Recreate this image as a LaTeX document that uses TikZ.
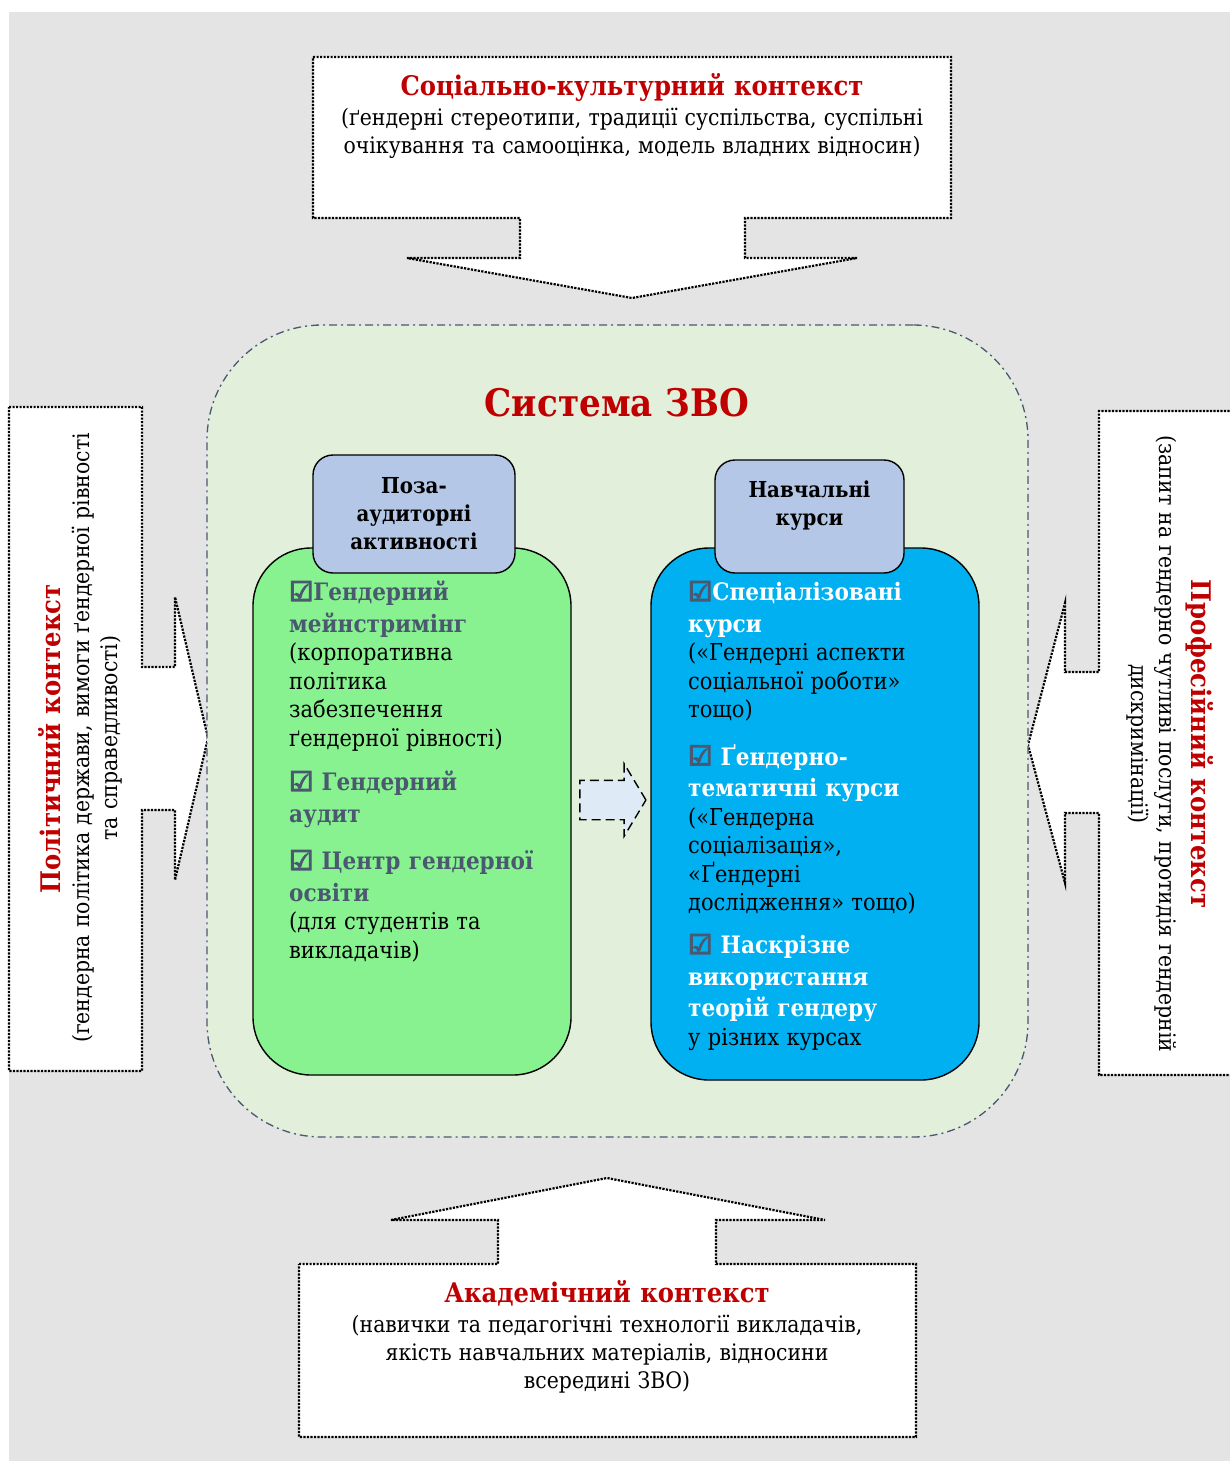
\documentclass[tikz,border=0pt]{standalone}
\usepackage{fontspec}
\setmainfont{DejaVu Serif Condensed}[WordSpace=1.1]
\newfontfamily\boxsym{DejaVu Sans}[FakeBold=5]
\usetikzlibrary{shapes.arrows}
\definecolor{ctxred}{HTML}{C00000}
\definecolor{slate}{HTML}{4A5870}
\definecolor{bgray}{HTML}{E4E4E4}
\definecolor{zvogreen}{HTML}{E2EFDA}
\definecolor{actgreen}{HTML}{88F290}
\definecolor{cyanblue}{HTML}{00B0F0}
\definecolor{headblue}{HTML}{B4C7E7}
\definecolor{paleblue}{HTML}{DEEBF7}
\newcommand{\chk}{{\boxsym\mdseries\fontsize{27}{31.5}\selectfont\color{slate}☑}}
\newcommand{\hd}[1]{{\fontsize{24}{31.5}\selectfont\bfseries\spaceskip=0pt\xspaceskip=0pt #1\par}}
\newcommand{\dsc}[1]{{\fontsize{23.3}{28.5}\selectfont\spaceskip=0pt\xspaceskip=0pt\color{black}#1\par}}
\begin{document}
\begin{tikzpicture}[x=1pt, y=-1pt,
    callout/.style={draw=black, dash pattern=on 2.2pt off 1.3pt, line width=2.2pt, fill=white},
    ctxtitle/.style={text=ctxred, font=\fontsize{27}{32}\selectfont\bfseries},
    ctxtext/.style={align=center, font=\fontsize{22.7}{28}\selectfont},
    bigbox/.style={draw=black, line width=1.4pt, rounded corners=58pt},
    headbox/.style={draw=black, line width=1.4pt, rounded corners=20pt, fill=headblue},
    headtext/.style={align=center, font=\fontsize{22}{28}\selectfont\bfseries},
    item/.style={anchor=north west, inner sep=0pt, text width=300pt, align=left,
        font=\fontsize{23.3}{28.5}\selectfont}]
\useasboundingbox (0,0) rectangle (1230,1461);
\fill[bgray] (9,12) rectangle (1230,1461);

% context callouts
\draw[callout] (313,57) -- (951,57) -- (951,218) -- (745,218) -- (745,258) -- (857,258) -- (632,298)
    -- (407,258) -- (520,258) -- (520,218) -- (313,218) -- cycle;
\draw[callout] (9,407) -- (142,407) -- (142,667) -- (175,667) -- (175,597) -- (208,738) -- (175,880)
    -- (175,810) -- (142,810) -- (142,1071) -- (9,1071) -- cycle;
\draw[callout] (1240,411) -- (1099,411) -- (1099,672) -- (1065,672) -- (1065,603) -- (1028,745)
    -- (1065,883) -- (1065,813) -- (1099,813) -- (1099,1075) -- (1240,1075) -- cycle;
\draw[callout] (299,1264) -- (498,1264) -- (498,1220) -- (391,1220) -- (607,1178) -- (825,1220)
    -- (716,1220) -- (716,1264) -- (916,1264) -- (916,1437) -- (299,1437) -- cycle;

\node (social) [ctxtitle] at (632,87) {Соціально-культурний контекст};
\node (socialtext) [ctxtext] at (632,133) {(ґендерні стереотипи, традиції суспільства, суспільні\\
    очікування та самооцінка, модель владних відносин)};
\node (polit) [ctxtitle, rotate=90] at (50,739) {Політичний контекст};
\node (polittext) [ctxtext, rotate=90] at (97,738) {(гендерна політика держави, вимоги ґендерної рівності\\
    та справедливості)};
\node (prof) [ctxtitle, rotate=-90] at (1200,744) {Професійний контекст};
\node (proftext) [ctxtext, rotate=-90] at (1152,744) {(запит на гендерно чутливі послуги, протидія гендерній\\
    дискримінації)};
\node (acad) [ctxtitle] at (607,1293) {Академічний контекст};
\node (acadtext) [ctxtext] at (607,1354) {(навички та педагогічні технології викладачів,\\
    якість навчальних матеріалів, відносини\\всередині ЗВО)};

% system
\node (zvo) [draw=slate, line width=1.3pt, dash pattern=on 8pt off 4pt on 2pt off 4pt, fill=zvogreen,
    rounded corners=115pt, minimum width=821pt, minimum height=812pt] at (617.5,731) {};
\node (zvotitle) [text=ctxred, font=\fontsize{38}{44}\selectfont\bfseries] at (617,403) {Система ЗВО};

\node (extrabox) [bigbox, fill=actgreen, minimum width=318pt, minimum height=527pt] at (412,811.5) {};
\node (extrahead) [headbox, minimum width=202pt, minimum height=118pt] at (414,514) {};
\node (extratitle) [headtext] at (extrahead) {Поза-\\аудиторні\\активності};
\node (coursebox) [bigbox, fill=cyanblue, minimum width=328pt, minimum height=532pt] at (815,814) {};
\node (coursehead) [headbox, minimum width=189pt, minimum height=113pt] at (809.5,516.5) {};
\node (coursetitle) [headtext] at ([yshift=11pt]coursehead.center) {Навчальні\\курси};

\node (flow) [single arrow, draw=black, dash pattern=on 9pt off 5pt, line width=1.4pt, fill=paleblue,
    inner xsep=0pt, inner ysep=19pt, minimum height=66pt, single arrow head extend=16.5pt,
    single arrow tip angle=118] at (607,800) {};

% items
\node (mainstr) [item, text=slate] at (289,581) {\hd{\chk Гендерний\\мейнстримінг}%
    \dsc{(корпоративна\\політика\\забезпечення\\ґендерної рівності)}};
\node (audit) [item, text=slate] at (289,771) {\hd{\chk\ Гендерний\\аудит}};
\node (centre) [item, text=slate] at (289,850) {\hd{\chk\ Центр гендерної\\освіти}%
    \dsc{(для студентів та\\викладачів)}};
\node (special) [item, text=white] at (688,581) {\hd{\chk Спеціалізовані\\курси}%
    \dsc{(«Гендерні аспекти\\соціальної роботи»\\тощо)}};
\node (thematic) [item, text=white] at (688,744) {\hd{\chk\ Ґендерно-\\тематичні курси}%
    \dsc{(«Гендерна\\соціалізація»,\\«Ґендерні\\дослідження» тощо)}};
\node (across) [item, text=white] at (688,934) {\hd{\chk\ Наскрізне\\використання\\теорій гендеру}%
    \dsc{у різних курсах}};
\end{tikzpicture}
\end{document}
